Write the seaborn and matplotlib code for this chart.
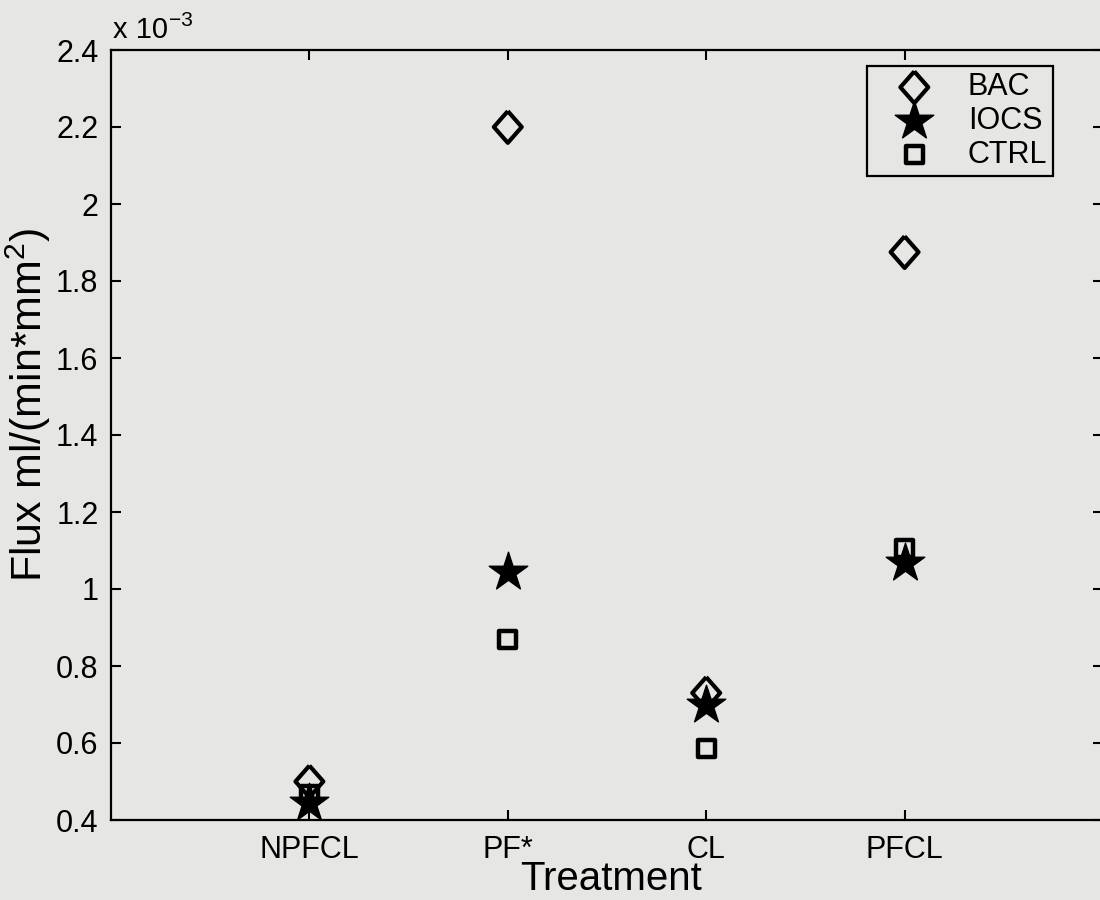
import numpy as np
import pandas as pd
import matplotlib
matplotlib.use("Agg")
import matplotlib.pyplot as plt
from matplotlib.ticker import FuncFormatter
import seaborn as sns

# ---- data (flux in units of 1e-3 ml/(min*mm^2)) ----
categories = ["NPFCL", "PF*", "CL", "PFCL"]
bac = [0.50, 2.20, 0.73, 1.875]
iocs = [0.445, 1.045, 0.70, 1.067]
ctrl = [0.465, 0.87, 0.585, 1.105]
series_names = ["BAC", "IOCS", "CTRL"]
yticks = [0.4, 0.6, 0.8, 1.0, 1.2, 1.4, 1.6, 1.8, 2.0, 2.2, 2.4]

sns.set_theme(style="ticks")
bg = "#e6e6e4"
plt.rcParams["font.family"] = ["Liberation Sans", "DejaVu Sans"]
plt.rcParams["mathtext.fontset"] = "custom"
plt.rcParams["mathtext.rm"] = "Liberation Sans"
plt.rcParams["mathtext.it"] = "Liberation Sans"
for k in ["text.color", "axes.labelcolor", "xtick.color", "ytick.color"]:
    plt.rcParams[k] = "black"

fig = plt.figure(figsize=(11, 9), dpi=100, facecolor=bg)
ax = fig.add_axes([111 / 1100, 80 / 900, 992 / 1100, 770 / 900])
ax.set_facecolor(bg)

diamond = [(0, 1), (0.88, 0), (0, -1), (-0.88, 0), (0, 1)]
styles = {
    "BAC": dict(marker=diamond, s=520, facecolor="none", edgecolor="black", linewidth=3.0),
    "IOCS": dict(marker="*", s=850, facecolor="black", edgecolor="black", linewidth=1.0),
    "CTRL": dict(marker="s", s=150, facecolor="none", edgecolor="black", linewidth=3.2),
}
values = {"BAC": bac, "IOCS": iocs, "CTRL": ctrl}

for name in series_names:
    df = pd.DataFrame({"Treatment": categories, "Flux": values[name]})
    st = styles[name]
    sns.scatterplot(data=df, x="Treatment", y="Flux", ax=ax, label=name,
                    marker=st["marker"], s=st["s"], facecolor=st["facecolor"],
                    edgecolor=st["edgecolor"], linewidth=st["linewidth"], zorder=3)

ax.set_xlim(-1, len(categories))
ax.set_ylim(0.4, 2.4)
ax.set_yticks(yticks)
ax.yaxis.set_major_formatter(FuncFormatter(lambda v, p: f"{v:g}"))

for sp in ax.spines.values():
    sp.set_visible(True)
    sp.set_linewidth(1.6)
    sp.set_color("black")

ax.tick_params(axis="both", which="major", direction="in", length=7, width=1.5,
               top=True, right=True, labelsize=22, colors="black", pad=9)
ax.tick_params(axis="x", pad=11)

ax.set_xlabel("Treatment", fontsize=29, color="black", va="top")
ax.xaxis.set_label_coords(0.504, -0.052)
ax.set_ylabel(r"Flux ml/(min*mm$^2$)", fontsize=31, color="black")
ax.yaxis.set_label_coords(-0.058, 0.539)

t1 = ax.text(0.002, 1.008, "x 10", transform=ax.transAxes, fontsize=21,
             ha="left", va="bottom", color="black")
ax.annotate("\u22123", xy=(1, 1), xycoords=t1, xytext=(0.5, -7),
            textcoords="offset points", fontsize=15, ha="left", va="baseline",
            color="black")

leg = ax.legend(loc="upper right", bbox_to_anchor=(0.950, 0.979), borderaxespad=0,
                frameon=True, fancybox=False, fontsize=22, handletextpad=0.4,
                labelspacing=0.12, borderpad=0.2, handlelength=2.7,
                edgecolor="black", facecolor=bg, framealpha=1)
leg.get_frame().set_linewidth(1.6)

fig.savefig("out.png", dpi=100, facecolor=bg)
